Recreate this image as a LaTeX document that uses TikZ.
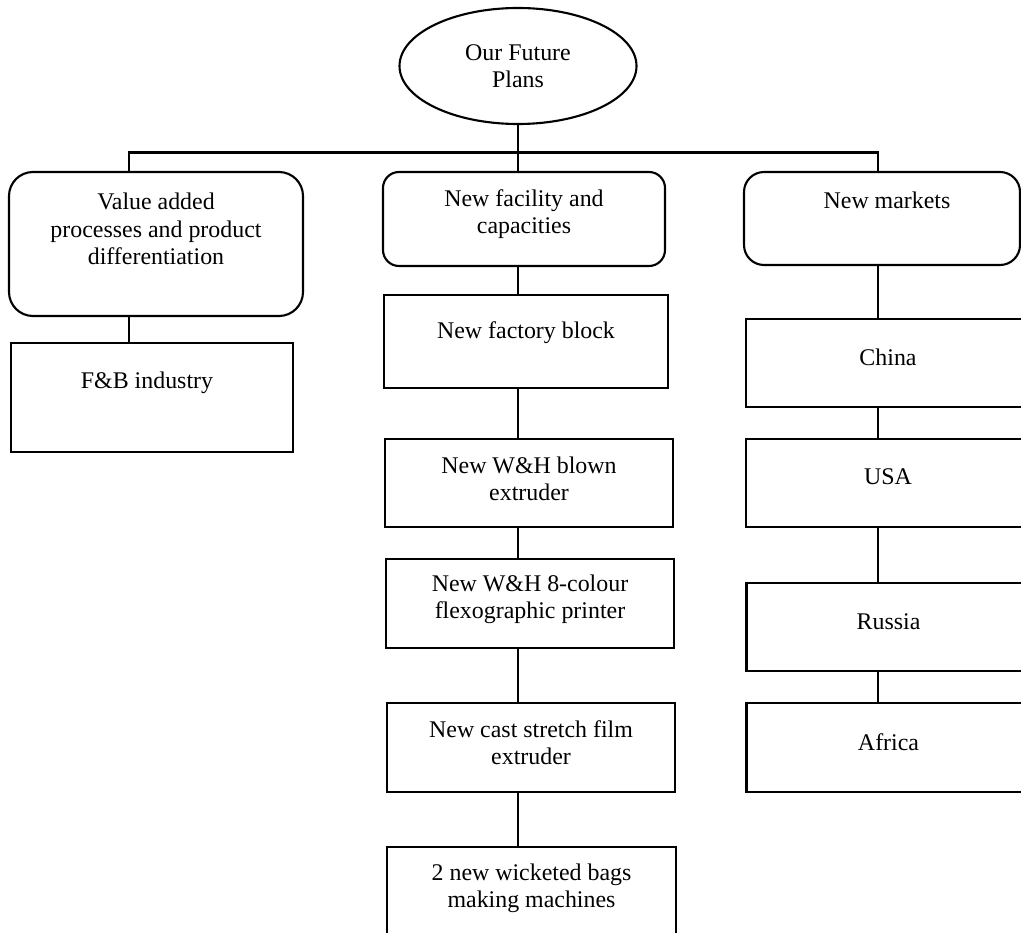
\documentclass[tikz,border=0pt]{standalone}
\usepackage{fontspec}
\setmainfont{Liberation Serif}
\usetikzlibrary{shapes.geometric}

\begin{document}
\begin{tikzpicture}[
  x=1cm,y=1cm,line width=1.5pt,
  every node/.style={font=\fontsize{17}{19.5}\selectfont},
  every label/.style={align=center,inner sep=0pt},
  plainbox/.style 2 args={draw,rectangle,inner sep=0pt,
    minimum width=#1,minimum height=#2},
  roundbox/.style 2 args={plainbox={#1}{#2},rounded corners=0.5cm}
]
  \useasboundingbox (0,0) rectangle (25.525,-23.3);
  \clip (0,0) rectangle (25.525,-23.3);

  % The root of the tree.
  \node[draw,ellipse,inner sep=0pt,align=center,
        minimum width=5.925cm,minimum height=2.9cm]
    (plans) at (12.95,-1.65) {Our Future\\Plans};

  % The three branches.
  \node[roundbox={7.35cm}{3.6cm},rounded corners=0.6cm,
        label={[yshift=0.375cm]center:Value added\\processes and product\\differentiation}]
    (value) at (3.9,-6.1) {};
  \node[roundbox={7.05cm}{2.35cm},rounded corners=0.4cm,
        label={[yshift=0.125cm]center:New facility and\\capacities}]
    (facility) at (13.1,-5.475) {};
  \node[roundbox={6.9cm}{2.325cm},
        label={[xshift=0.125cm,yshift=0.4625cm]center:New markets}]
    (markets) at (22.05,-5.4625) {};

  % Left column.
  \node[plainbox={7.05cm}{2.725cm},
        label={[xshift=-0.125cm,yshift=0.3625cm]center:F\&B industry}]
    (fb) at (3.8,-9.9375) {};

  % Middle column.
  \node[plainbox={7.1cm}{2.325cm},
        label={[yshift=0.2125cm]center:New factory block}]
    (factory) at (13.15,-8.5375) {};
  \node[plainbox={7.2cm}{2.2cm},
        label={[yshift=0.1cm]center:New W\&H blown\\extruder}]
    (blown) at (13.225,-12.075) {};
  \node[plainbox={7.2cm}{2.225cm},
        label={[yshift=0.1125cm]center:New W\&H 8-colour\\flexographic printer}]
    (printer) at (13.25,-15.0875) {};
  \node[plainbox={7.2cm}{2.225cm},
        label={[yshift=0.125cm]center:New cast stretch film\\extruder}]
    (cast) at (13.275,-18.6875) {};
  \node[plainbox={7.225cm}{2.225cm},
        label={[yshift=0.075cm]center:2 new wicketed bags\\making machines}]
    (bags) at (13.2875,-22.2875) {};

  % Right column (cut off by the page edge).
  \node[plainbox={7.1cm}{2.2cm},
        label={[yshift=0.15cm]center:China}]
    (china) at (22.2,-9.075) {};
  \node[plainbox={7.1cm}{2.2cm},
        label={[yshift=0.15cm]center:USA}]
    (usa) at (22.2,-12.075) {};
  \node[plainbox={7.1cm}{2.2cm},
        label={[yshift=0.125cm]center:Russia}]
    (russia) at (22.2125,-15.675) {};
  \node[plainbox={7.1cm}{2.225cm},
        label={[yshift=0.1375cm]center:Africa}]
    (africa) at (22.2125,-18.6875) {};

  % Connectors.
  \coordinate (leftarm) at (3.225,-3.8125);
  \coordinate (rightarm) at (21.95,-3.8125);
  \draw (plans.south) -- (plans.south |- facility.north);
  \draw (leftarm |- value.north) -- (leftarm) -- (rightarm)
    -- (rightarm |- markets.north);
  \draw (leftarm |- value.south) -- (leftarm |- fb.north);
  \foreach \a/\b in {facility/factory,factory/blown,blown/printer,
                     printer/cast,cast/bags}
    \draw (plans.south |- \a.south) -- (plans.south |- \b.north);
  \foreach \a/\b in {markets/china,china/usa,usa/russia,russia/africa}
    \draw (rightarm |- \a.south) -- (rightarm |- \b.north);
\end{tikzpicture}
\end{document}
